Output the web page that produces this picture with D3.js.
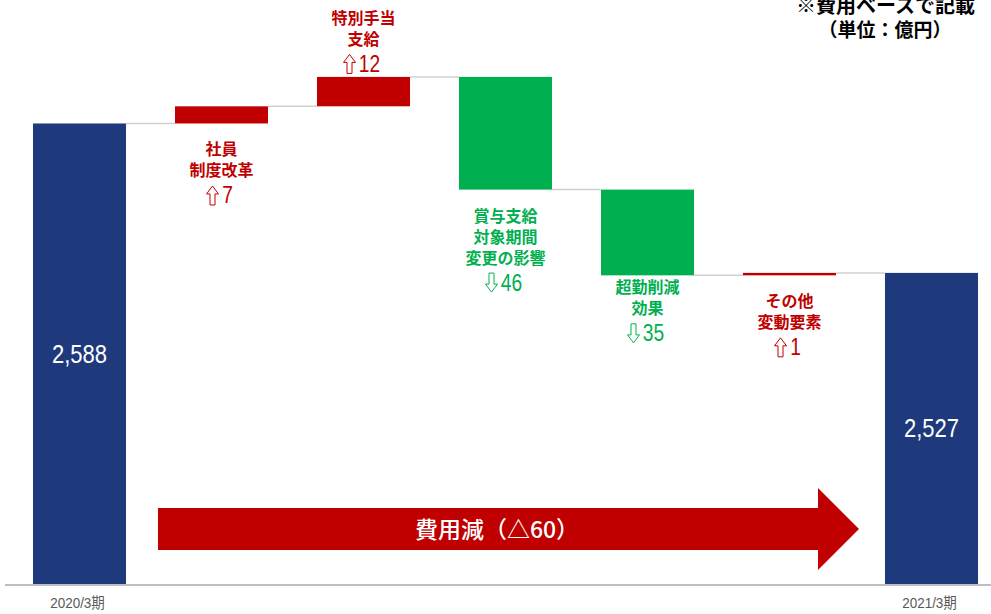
<!DOCTYPE html>
<html>
<head>
<meta charset="utf-8">
<script src="https://cdn.jsdelivr.net/npm/d3@7"></script>
<style>
  body { margin: 0; background: #fff; }
  svg { display: block; }
  .num { font-family: "Liberation Sans", "Noto Sans CJK JP", sans-serif; }
  .jp { font-family: "Noto Sans CJK JP", sans-serif; font-weight: bold; }
</style>
</head>
<body>
<svg id="chart" width="991" height="614"></svg>
<script>
// 費用ベース 増減要因（億円）
var categories = ["2020/3期", "社員制度改革", "特別手当支給", "賞与支給対象期間変更の影響", "超勤削減効果", "その他変動要素", "2021/3期"];
var values = [2588, 7, 12, -46, -35, 1, 2527];
var isTotal = [true, false, false, false, false, false, true];
var axisLabels = ["2020/3期", "", "", "", "", "", "2021/3期"];
var noteLines = [
    [],
    ["社員", "制度改革"],
    ["特別手当", "支給"],
    ["賞与支給", "対象期間", "変更の影響"],
    ["超勤削減", "効果"],
    ["その他", "変動要素"],
    []
];
var arrowText = "費用減（△60）";
var unitNotes = ["※費用ベースで記載", "（単位：億円）"];

var svg = d3.select("#chart");
var base = 584;

var x = d3.scaleBand().domain(categories).range([8.5, 1002.5]).paddingInner(0.345).paddingOuter(0.1725);
var y = d3.scaleLinear().domain([2400, 2638.4]).range([base, 0]);

// running totals
var steps = [];
var run = 0;
values.forEach(function (v, i) {
    var d = {cat: categories[i], value: v, total: isTotal[i], idx: i};
    if (isTotal[i]) {
        d.y0 = 2400; d.y1 = v; run = v;
    } else {
        d.y0 = run; d.y1 = run + v; run = d.y1;
    }
    d.end = isTotal[i] ? v : d.y1;
    steps.push(d);
});

function colorOf(d) {
    if (d.total) return "#1f3a7c";
    return d.value >= 0 ? "#c00000" : "#00b050";
}

// condensed digits: scale text horizontally around its anchor
function narrowText(parent, cx, cy, sx, txt) {
    return parent.append("text").attr("class", "num")
        .attr("transform", "translate(" + cx + "," + cy + ") scale(" + sx + ",1)")
        .attr("text-anchor", "middle").text(txt);
}

// hollow up/down arrow (like ⇧ / ⇩), anchored at its centre
function hollowArrow(parent, cx, cy, up, col) {
    var w = 12, h = 19, sw = 5, hh = 8;
    var pts = [[0, -h / 2], [w / 2, -h / 2 + hh], [sw / 2, -h / 2 + hh], [sw / 2, h / 2],
        [-sw / 2, h / 2], [-sw / 2, -h / 2 + hh], [-w / 2, -h / 2 + hh]];
    if (!up) pts = pts.map(function (p) { return [p[0], -p[1]]; });
    parent.append("path")
        .attr("d", d3.line()(pts.map(function (p) { return [cx + p[0], cy + p[1]]; })) + "Z")
        .attr("fill", "#fff").attr("stroke", col).attr("stroke-width", 1);
}

// connectors
var conn = svg.append("g");
steps.slice(0, -1).forEach(function (d, i) {
    var nx = steps[i + 1];
    conn.append("line")
        .attr("x1", x(d.cat) + x.bandwidth()).attr("x2", x(nx.cat))
        .attr("y1", y(d.end)).attr("y2", y(d.end))
        .attr("stroke", "#d0d0d0").attr("stroke-width", 1.5);
});

// bars
svg.append("g").selectAll("rect").data(steps).enter().append("rect")
    .attr("x", function (d) { return x(d.cat); })
    .attr("width", x.bandwidth())
    .attr("y", function (d) { return y(Math.max(d.y0, d.y1)); })
    .attr("height", function (d) { return Math.max(1.5, Math.abs(y(d.y0) - y(d.y1))); })
    .attr("fill", colorOf);

// axis line
svg.append("line").attr("x1", 5).attr("x2", 991).attr("y1", base + 1).attr("y2", base + 1)
    .attr("stroke", "#bfbfbf").attr("stroke-width", 2);

// axis labels
var xAxis = d3.axisBottom(x).tickSize(0).tickFormat("");
var ax = svg.append("g").attr("transform", "translate(0," + base + ")").call(xAxis);
ax.select(".domain").remove();
ax.selectAll(".tick text").remove();
ax.selectAll(".tick").each(function (d, i) {
    if (!axisLabels[i]) return;
    narrowText(d3.select(this), -2, 24, 0.9, axisLabels[i])
        .style("font-size", "15px").attr("fill", "#595959");
});

// total values inside bars
steps.filter(function (d) { return d.total; }).forEach(function (d) {
    narrowText(svg, x(d.cat) + x.bandwidth() / 2, (y(d.y1) + base) / 2 + 9, 0.88, d3.format(",")(d.value))
        .attr("fill", "#fff").style("font-size", "25px");
});

// delta notes
var lineH = 21;
steps.filter(function (d) { return !d.total; }).forEach(function (d) {
    var lines = noteLines[d.idx];
    var col = colorOf(d);
    var cx = x(d.cat) + x.bandwidth() / 2;
    var top = y(Math.max(d.y0, d.y1)), bot = y(Math.min(d.y0, d.y1));
    var first;
    if (d.idx === 2) first = top - 14 - lineH * lines.length - 2;
    else if (d.idx === 4) first = bot + 13;
    else first = bot + 27;
    var g = svg.append("g").attr("transform", "translate(" + cx + "," + first + ")");
    lines.forEach(function (t, k) {
        g.append("text").attr("class", "jp").attr("y", k * lineH + 5)
            .attr("text-anchor", "middle").attr("fill", col)
            .style("font-size", "16px").text(t);
    });
    var ny = lines.length * lineH + 11;
    var digits = String(Math.abs(d.value));
    var dw = digits.length * 10;
    hollowArrow(g, -dw / 2 - 4, ny - 8, d.value >= 0, col);
    narrowText(g, 6, ny, 0.8, digits).attr("fill", col).style("font-size", "24px");
});

// big arrow
var ax0 = x(categories[1]) - 17, ax1 = x(categories[5]) + 116;
var by0 = 508, by1 = 550, hy0 = 488, hy1 = 570, hx = ax1 - 41;
svg.append("path")
    .attr("d", "M" + ax0 + "," + by0 + "H" + hx + "V" + hy0 + "L" + ax1 + "," + (hy0 + hy1) / 2 +
        "L" + hx + "," + hy1 + "V" + by1 + "H" + ax0 + "Z")
    .attr("fill", "#c00000");
svg.append("text").attr("class", "jp")
    .attr("x", 497).attr("y", 538).attr("text-anchor", "middle")
    .attr("fill", "#fff").style("font-size", "23px").style("font-weight", "500")
    .text(arrowText);

// unit notes
svg.append("text").attr("class", "jp").attr("x", 975).attr("y", 13).attr("text-anchor", "end")
    .attr("fill", "#000").style("font-size", "20px").text(unitNotes[0]);
svg.append("text").attr("class", "jp").attr("x", 885).attr("y", 37).attr("text-anchor", "middle")
    .attr("fill", "#000").style("font-size", "19px").text(unitNotes[1]);
</script>
</body>
</html>
